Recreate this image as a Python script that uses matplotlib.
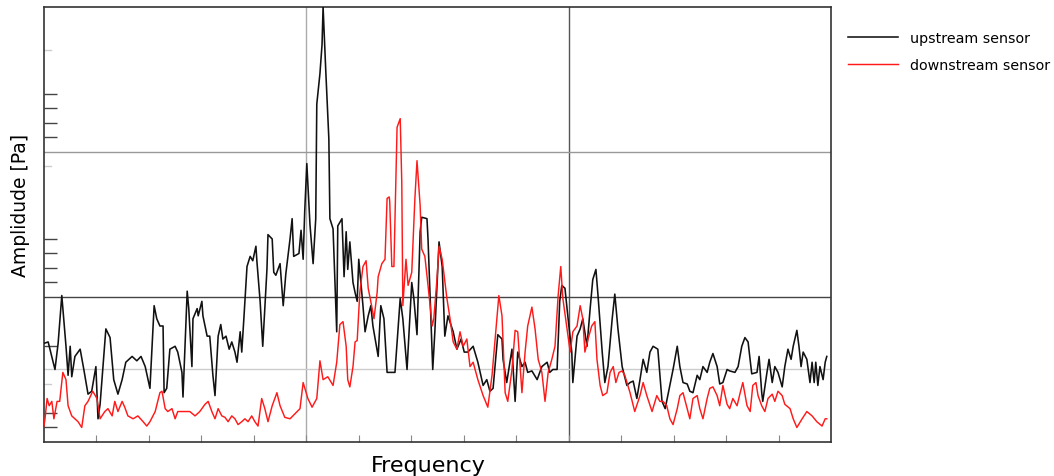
import numpy as np
import matplotlib
matplotlib.use('Agg')
import matplotlib.pyplot as plt

# spectrum: frequency [Hz], amplitude [arb.]
f_up = [0, 8, 21, 27, 34, 42, 46, 50, 53, 59, 69, 76, 84, 91, 99, 103, 107, 118, 126, 133,
        141, 149, 156, 168, 177, 185, 193, 202, 210, 215, 221, 227, 229, 234, 240, 250, 255, 263, 265, 273,
        276, 282, 284, 292, 294, 301, 303, 311, 316, 322, 326, 332, 337, 341, 347, 353, 358, 364, 368, 374,
        377, 381, 387, 393, 398, 404, 406, 412, 417, 425, 427, 435, 438, 442, 450, 456, 461, 469, 473, 476,
        486, 490, 494, 497, 501, 507, 513, 518, 520, 526, 530, 532, 537, 543, 545, 551, 558, 560, 568, 572,
        576, 579, 583, 589, 593, 597, 600, 604, 608, 612, 618, 623, 627, 637, 642, 648, 654, 669, 679, 684,
        692, 701, 705, 711, 717, 720, 730, 732, 741, 745, 753, 759, 764, 770, 780, 787, 795, 801, 808, 818,
        827, 837, 844, 850, 856, 865, 873, 875, 882, 892, 898, 903, 911, 917, 922, 930, 940, 949, 959, 964,
        970, 978, 983, 987, 993, 999, 1006, 1008, 1016, 1022, 1027, 1035, 1041, 1046, 1052, 1056, 1064, 1069, 1075, 1083,
        1088, 1094, 1102, 1111, 1117, 1123, 1130, 1136, 1142, 1149, 1155, 1161, 1170, 1178, 1184, 1189, 1199, 1207, 1212, 1218,
        1226, 1231, 1237, 1245, 1250, 1256, 1264, 1269, 1275, 1283, 1288, 1294, 1302, 1307, 1317, 1323, 1330, 1336, 1342, 1349,
        1359, 1363, 1368, 1370, 1378, 1382, 1388, 1393, 1399, 1407, 1412, 1418, 1424, 1428, 1435, 1439, 1443, 1447, 1454, 1460,
        1464, 1468, 1471, 1475, 1479, 1485, 1489, 1492]
a_up = [6.8, 6.9, 5.0, 6.8, 10.1, 6.6, 4.6, 6.6, 4.5, 5.9, 6.4, 5.0, 3.3, 3.5, 5.2, 1.6, 2.6, 7.8, 7.2, 4.3,
        3.3, 4.3, 5.5, 5.9, 5.6, 5.9, 5.2, 3.7, 9.4, 8.5, 8.0, 8.0, 3.4, 3.7, 6.4, 6.6, 6.2, 4.8, 3.1, 10.4,
        9.2, 5.2, 8.5, 9.2, 8.7, 9.7, 8.7, 7.3, 7.3, 4.6, 3.2, 7.3, 8.1, 7.1, 7.3, 6.4, 6.9, 6.2, 5.5, 7.6,
        6.2, 8.5, 12.1, 12.8, 12.5, 13.5, 12.4, 9.7, 6.6, 11.9, 14.3, 14.0, 11.7, 11.5, 12.3, 9.4, 11.6, 14.0, 15.4, 12.8,
        13.0, 14.6, 12.6, 15.9, 19.2, 15.0, 12.3, 15.4, 23.3, 25.4, 27.4, 30.0, 25.7, 20.9, 15.4, 14.7, 7.6, 14.9, 15.4, 11.4,
        14.5, 11.9, 13.8, 11.0, 10.3, 9.7, 12.6, 11.0, 9.4, 7.6, 8.7, 9.4, 8.0, 5.9, 9.4, 8.5, 4.8, 4.8, 9.9, 8.5,
        5.0, 11.0, 9.9, 7.4, 14.5, 15.5, 15.4, 14.0, 5.0, 7.6, 13.8, 12.1, 7.3, 8.7, 7.6, 6.4, 7.1, 6.2, 6.2, 6.6,
        5.5, 3.9, 4.3, 3.5, 3.7, 7.4, 7.1, 5.7, 4.1, 6.4, 2.8, 6.2, 5.2, 5.5, 4.8, 4.9, 4.3, 5.2, 5.5, 4.8,
        5.0, 5.0, 9.7, 10.8, 10.6, 8.5, 6.2, 4.1, 7.3, 7.8, 8.5, 6.6, 9.2, 11.2, 11.9, 10.1, 6.2, 4.1, 5.2, 8.5,
        10.2, 7.8, 5.2, 3.9, 4.1, 4.2, 3.0, 4.3, 5.7, 4.8, 6.2, 6.6, 6.4, 2.8, 2.3, 3.2, 5.0, 6.6, 5.2, 4.1,
        4.0, 3.5, 3.4, 4.6, 4.3, 5.2, 4.8, 5.5, 6.1, 5.2, 4.0, 4.1, 5.0, 4.9, 4.8, 5.2, 6.6, 7.2, 6.9, 4.7,
        4.8, 5.9, 3.4, 2.8, 4.8, 5.7, 4.1, 5.2, 4.8, 3.8, 5.2, 6.4, 5.7, 6.6, 7.7, 6.6, 5.2, 6.2, 5.7, 4.1,
        5.5, 4.1, 5.5, 3.9, 5.2, 4.3, 5.5, 5.9]

f_down = [0, 2, 6, 10, 15, 19, 25, 30, 36, 42, 46, 53, 59, 65, 72, 78, 84, 93, 101, 107,
          116, 122, 130, 135, 141, 149, 154, 160, 170, 179, 189, 196, 202, 212, 221, 225, 231, 236, 244, 250,
          255, 265, 278, 288, 297, 307, 313, 320, 326, 332, 339, 345, 351, 358, 364, 370, 377, 383, 389, 396,
          402, 408, 415, 421, 427, 435, 444, 450, 459, 469, 488, 494, 503, 511, 520, 526, 532, 541, 551, 558,
          564, 570, 576, 579, 583, 589, 593, 597, 602, 608, 614, 618, 625, 629, 635, 637, 644, 650, 654, 658,
          659, 663, 667, 673, 679, 682, 684, 690, 694, 701, 707, 711, 717, 720, 726, 732, 740, 743, 749, 753,
          759, 768, 774, 780, 787, 793, 799, 806, 812, 818, 827, 837, 846, 854, 860, 867, 873, 879, 884, 892,
          898, 903, 911, 917, 922, 930, 936, 942, 949, 955, 961, 968, 974, 980, 985, 989, 997, 1003, 1008, 1016,
          1022, 1027, 1031, 1037, 1044, 1050, 1054, 1060, 1065, 1073, 1079, 1085, 1090, 1096, 1102, 1107, 1117, 1126, 1136, 1142,
          1149, 1159, 1168, 1174, 1180, 1187, 1193, 1199, 1207, 1212, 1218, 1226, 1231, 1237, 1245, 1250, 1256, 1264, 1269, 1275,
          1283, 1288, 1294, 1302, 1307, 1313, 1321, 1327, 1332, 1340, 1346, 1351, 1357, 1361, 1368, 1374, 1380, 1388, 1393, 1399,
          1407, 1412, 1422, 1428, 1435, 1445, 1454, 1464, 1473, 1483, 1489, 1492]
a_down = [1.1, 1.6, 3.0, 2.5, 2.8, 1.6, 2.8, 2.8, 4.8, 4.3, 2.5, 1.8, 1.6, 1.4, 1.0, 2.5, 2.8, 3.5, 3.0, 1.6,
          2.1, 2.3, 1.8, 2.8, 2.1, 2.8, 2.4, 1.8, 1.6, 1.8, 1.4, 1.1, 1.4, 2.1, 3.4, 3.5, 2.3, 2.1, 2.3, 1.6,
          2.1, 2.1, 2.1, 1.8, 2.1, 2.6, 2.8, 2.1, 1.6, 2.3, 1.8, 1.7, 1.4, 1.8, 1.6, 1.2, 1.4, 1.6, 1.4, 1.8,
          1.4, 1.1, 3.0, 2.3, 1.4, 2.5, 3.4, 2.5, 1.7, 1.6, 2.3, 4.1, 3.0, 2.4, 3.0, 5.6, 4.3, 4.5, 3.9, 5.5,
          8.1, 8.3, 6.6, 4.3, 3.8, 5.2, 6.9, 7.0, 10.3, 12.1, 12.5, 10.6, 9.3, 8.5, 10.3, 11.4, 12.3, 12.6, 16.8, 16.9,
          16.6, 12.1, 12.1, 21.7, 22.3, 17.9, 9.4, 12.6, 10.8, 11.7, 16.8, 19.4, 16.3, 13.3, 12.8, 10.8, 8.0, 8.5, 11.2, 13.5,
          12.6, 9.9, 8.5, 6.9, 6.4, 7.6, 6.6, 7.1, 5.2, 5.5, 4.3, 3.2, 2.4, 4.6, 7.1, 10.1, 8.7, 3.4, 2.8, 5.0,
          7.7, 7.6, 3.4, 6.2, 8.0, 9.3, 7.8, 5.7, 4.8, 2.8, 4.8, 5.7, 6.6, 10.1, 12.1, 9.9, 7.8, 6.2, 7.6, 8.0,
          9.4, 8.5, 6.2, 7.1, 8.0, 8.3, 5.7, 3.9, 3.2, 3.4, 4.8, 5.2, 4.1, 4.8, 4.9, 4.6, 3.4, 2.1, 3.2, 4.1,
          3.2, 2.1, 3.2, 2.8, 2.8, 2.5, 1.6, 1.2, 2.3, 3.2, 3.4, 2.3, 1.6, 3.0, 3.2, 2.3, 1.6, 3.0, 3.7, 3.8,
          3.2, 2.5, 3.9, 2.6, 2.3, 3.0, 2.5, 3.4, 4.1, 2.5, 2.1, 3.9, 4.1, 3.2, 2.5, 2.1, 3.0, 3.3, 2.8, 3.5,
          3.2, 2.6, 2.3, 1.6, 1.0, 1.6, 2.1, 1.8, 1.4, 1.1, 1.6, 1.6]

x_minor = np.arange(100, 1500, 100)
y_ticks = [1, 2, 6.6, 11, 12, 13, 14, 21, 22, 23, 24]
y_ticks_faint = [4, 19, 27]

fig = plt.figure(figsize=(10.54, 4.77), dpi=100)
ax = fig.add_axes([0.0417, 0.0713, 0.7467, 0.912])

# grid lines
ax.axvline(500, color='#aaaaaa', lw=1.0, zorder=1)
ax.axvline(1000, color='#555555', lw=1.0, zorder=1)
ax.axhline(20, color='#999999', lw=1.0, zorder=1)
ax.axhline(10, color='#444444', lw=1.0, zorder=1)
ax.axhline(5, color='#cccccc', lw=1.0, zorder=1)

ax.plot(f_up, a_up, color='#111111', lw=1.15, label='upstream sensor', zorder=3)
ax.plot(f_down, a_down, color='#ff1a1a', lw=1.05, label='downstream sensor', zorder=3)

ax.set_xlim(0, 1500)
ax.set_ylim(0, 30)

ax.set_xticks(x_minor)
ax.set_xticklabels([])
ax.tick_params(axis='x', direction='in', length=5, width=0.8, color='#888888')
ax.set_yticks(y_ticks)
ax.set_yticklabels([])
ax.tick_params(axis='y', direction='in', length=9, width=1.0, color='#444444')
for yv in y_ticks_faint:
    ax.plot([0, 14], [yv, yv], color='#cccccc', lw=1.0, clip_on=False)

for s in ax.spines.values():
    s.set_color('#333333')
    s.set_linewidth(1.2)

ax.set_xlabel('Frequency', fontsize=16)
ax.xaxis.set_label_coords(0.489, -0.0525)
ax.xaxis.label.set_va('center')
ax.set_ylabel('Amplidude [Pa]', fontsize=13.5)
ax.yaxis.set_label_coords(-0.018, 0.545)

ax.legend(loc='upper left', bbox_to_anchor=(1.021, 0.945), frameon=False,
          fontsize=10.3, handlelength=3.5, handletextpad=0.9, labelspacing=0.9,
          borderpad=0, borderaxespad=0)

plt.savefig('out.png', dpi=100)
